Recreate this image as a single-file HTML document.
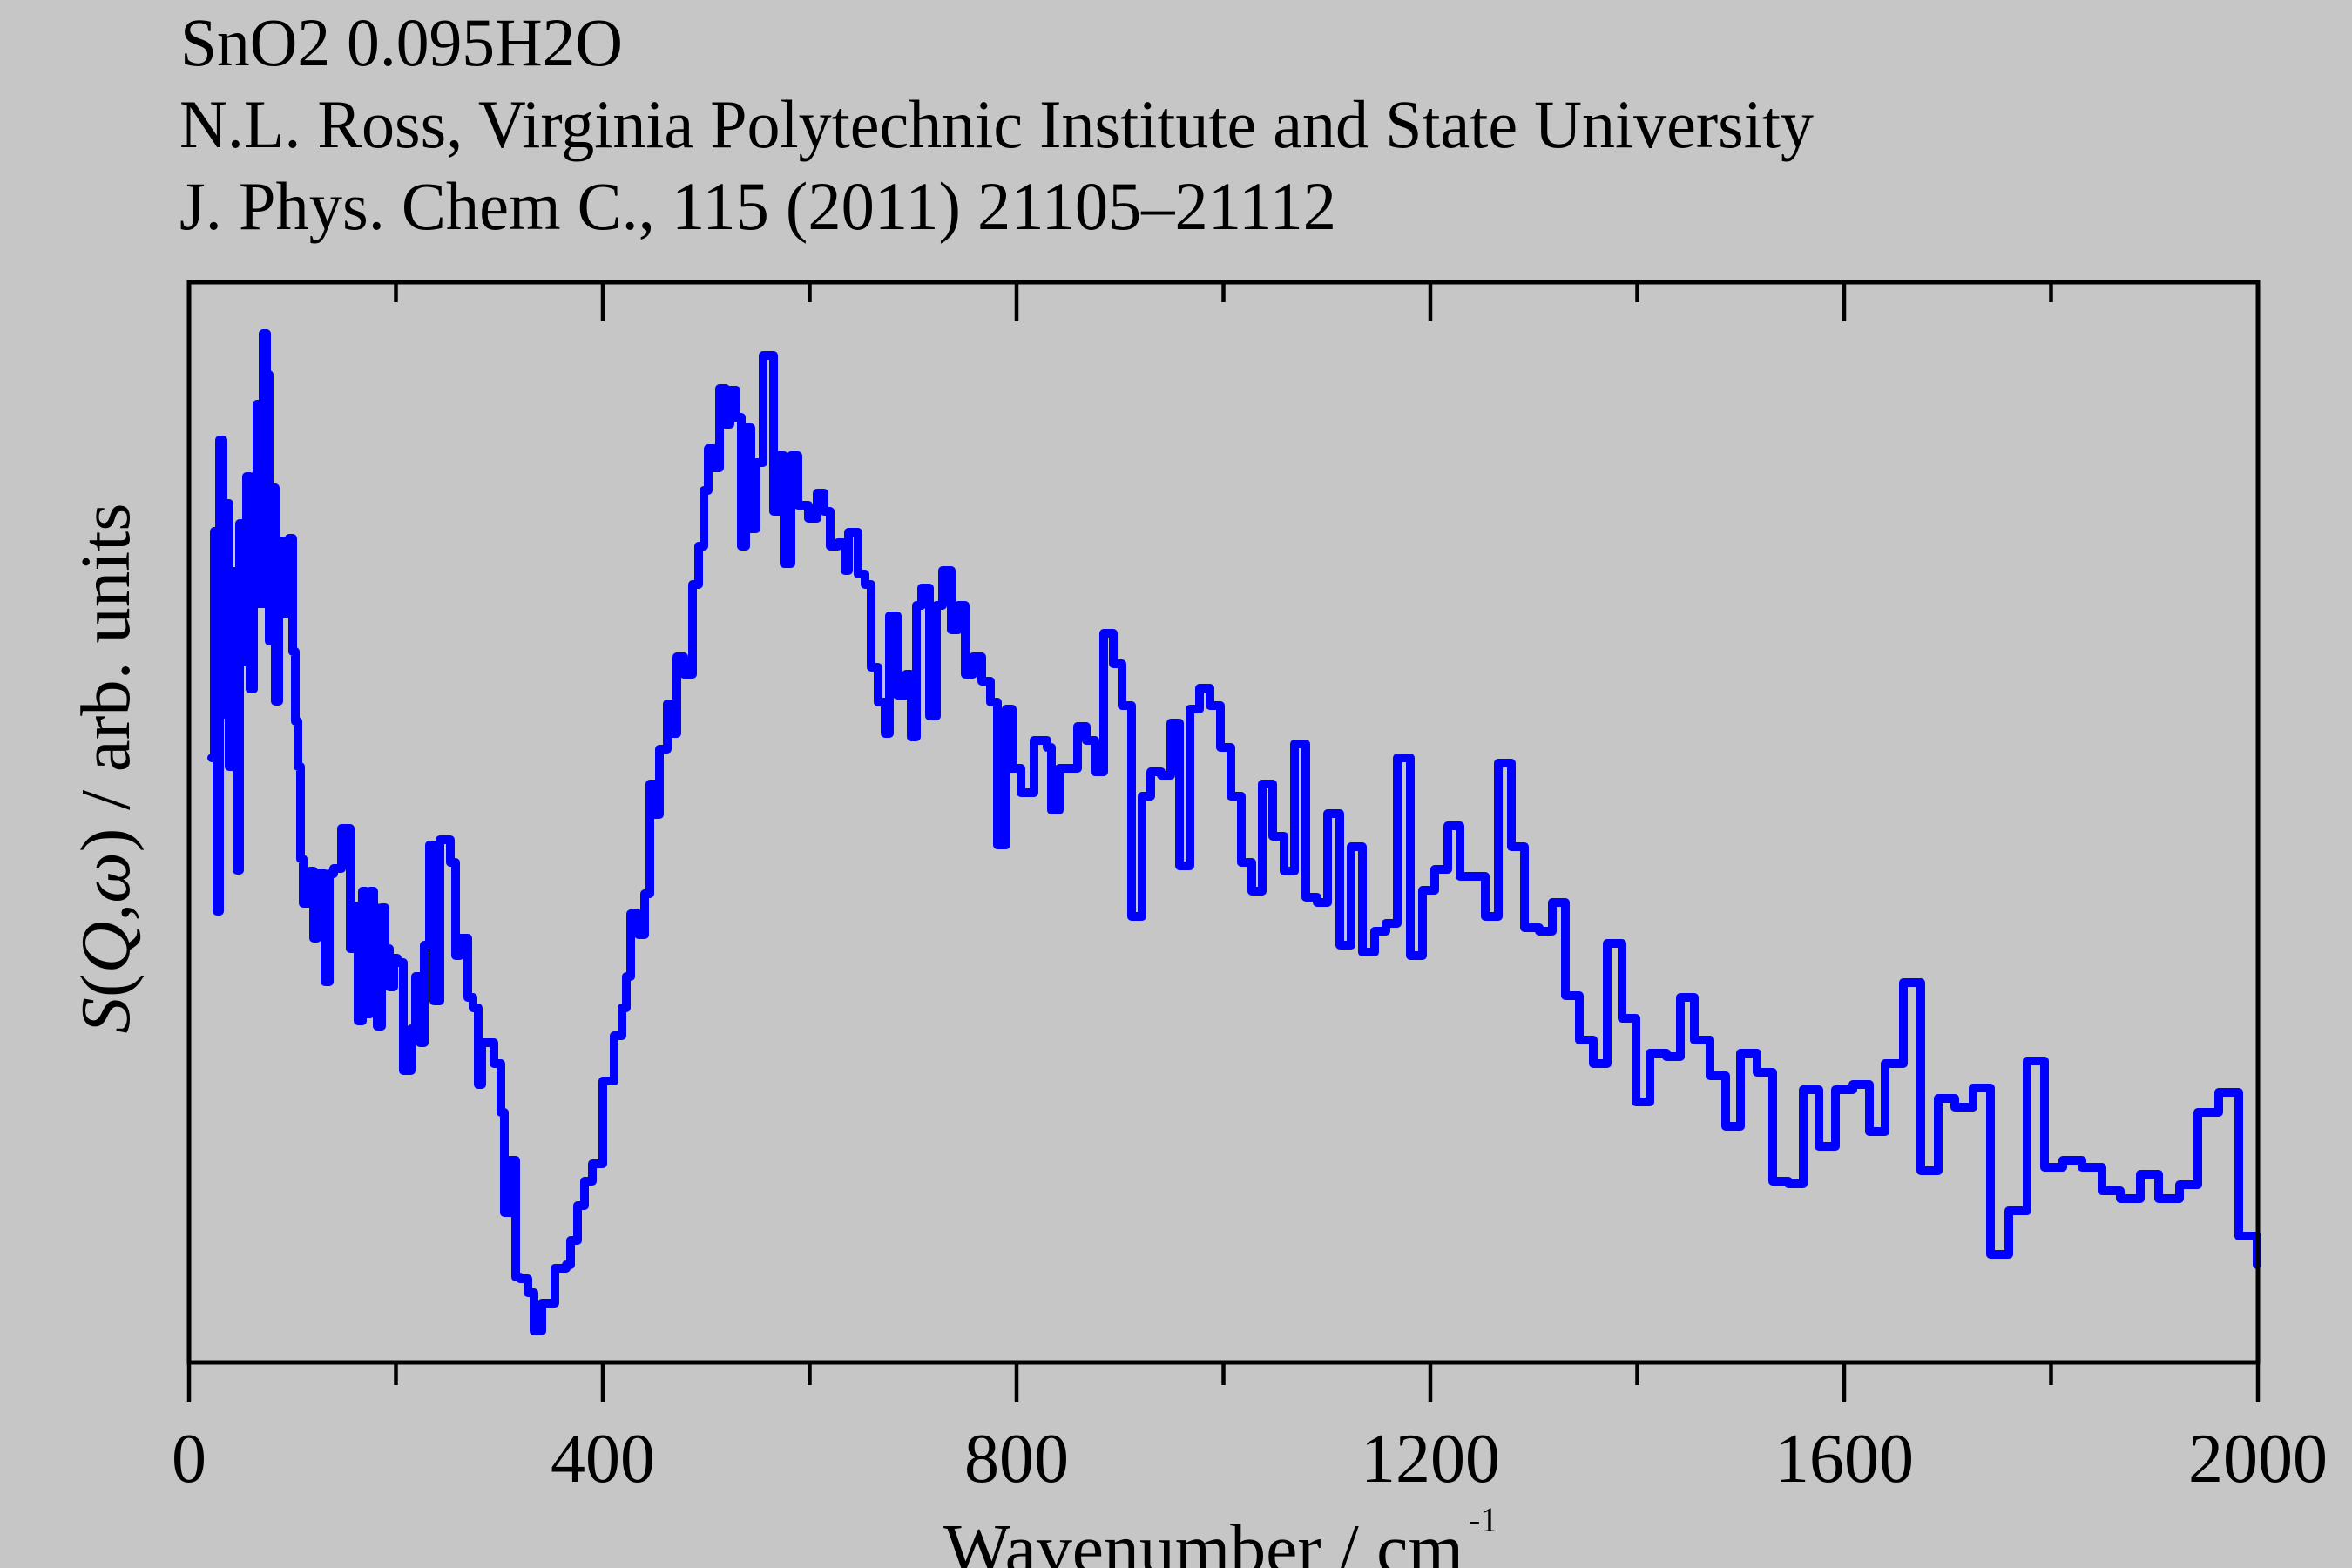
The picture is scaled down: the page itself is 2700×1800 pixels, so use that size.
<!DOCTYPE html>
<html>
<head>
<meta charset="utf-8">
<style>
  html, body { margin: 0; padding: 0; background: #c6c6c6; }
  body { width: 2700px; height: 1800px; overflow: hidden; }
  svg { display: block; }
  text { font-family: "Liberation Serif", "Times New Roman", serif; fill: #000; }
</style>
</head>
<body>
<svg width="2700" height="1800" viewBox="0 0 2700 1800" xmlns="http://www.w3.org/2000/svg">
  <rect x="0" y="0" width="2700" height="1800" fill="#c6c6c6"/>

  <!-- Title block -->
  <text x="207" y="75" font-size="78" textLength="508" lengthAdjust="spacingAndGlyphs">SnO2 0.095H2O</text>
  <text x="206" y="169" font-size="78" textLength="1876" lengthAdjust="spacingAndGlyphs">N.L. Ross, Virginia Polytechnic Institute and State University</text>
  <text x="206" y="263" font-size="78" textLength="1328" lengthAdjust="spacingAndGlyphs">J. Phys. Chem C., 115 (2011) 21105–21112</text>

  <!-- Data curve -->
  <path fill="none" stroke="#0000ff" stroke-width="10" stroke-linejoin="round" stroke-linecap="round"
    d="M243,870H246V610H249V1046H252V505H256V820H259V578H263V880H266V656H269V760H272V999H275V601H279V760H283V547H287V791H291V547H295V464H298V693H302V383H306V430H309V736H312V560H316V805H320V621H324V705H328V621H332V618H336V748H339V828H342V880H345V986H348V1037H356V1000H360V1077H364V1003H373V1127H378V1003H383V997H392V951H402V1089H406V1040H411V1172H416V1023H420V1164H425V1023H429V1042H433V1178H438V1042H442V1089H447V1133H452V1100H456V1105H463V1229H472V1181H477V1121H482V1197H487V1085H493V970H498V1149H505V964H517V990H523V1097H528V1077H537V1145H543V1157H549V1245H553V1197H567V1221H575V1277H579V1392H585V1332H592V1466H597V1468H606V1484H613V1528H622V1496H637V1456H650V1452H655V1424H663V1384H671V1356H680V1336H692V1241H705V1189H714V1157H719V1121H724V1049H733V1073H740V1026H746V900H752V935H757V860H766V808H772V842H777V754H785V774H795V671H802V627H808V563H813V515H820V537H826V446H833V487H838V448H845V479H851V627H856V491H862V607H868V531H876V408H888V587H893V523H900V647H908V523H916V580H928V595H938V566H946V587H953V627H962V623H970V655H974V611H985V659H993V671H1000V766H1008V806H1016V842H1021V707H1030V798H1040V774H1046V846H1052V695H1058V675H1067V822H1075V695H1082V655H1092V723H1100V695H1108V774H1117V754H1127V782H1137V806H1145V970H1155V814H1162V882H1172V910H1187V850H1202V858H1207V930H1216V882H1237V834H1247V850H1257V886H1267V727H1278V762H1288V810H1299V1052H1311V914H1321V886H1333V890H1344V830H1354V994H1366V814H1377V790H1389V810H1401V858H1413V914H1425V990H1437V1023H1449V900H1461V960H1474V1000H1486V854H1499V1030H1512V1036H1524V934H1538V1085H1551V972H1564V1093H1578V1069H1591V1060H1604V870H1619V1097H1633V1022H1647V998H1662V948H1676V1006H1705V1052H1720V876H1735V972H1750V1065H1767V1069H1782V1036H1797V1143H1813V1194H1829V1221H1845V1083H1862V1169H1878V1265H1894V1209H1913V1213H1929V1145H1945V1194H1963V1235H1981V1293H1998V1209H2017V1231H2035V1356H2053V1359H2070V1251H2088V1316H2107V1251H2127V1245H2146V1299H2164V1221H2185V1128H2205V1344H2225V1261H2244V1271H2265V1249H2285V1440H2306V1390H2327V1218H2347V1340H2368V1332H2390V1340H2413V1367H2434V1376H2457V1348H2478V1376H2502V1360H2523V1277H2547V1254H2570V1419H2591V1452"/>

  <!-- Axes frame -->
  <rect x="217" y="324" width="2375" height="1240" fill="none" stroke="#000" stroke-width="5"/>

  <!-- Top ticks (inward) -->
  <g stroke="#000" stroke-width="4.5">
    <line x1="692" y1="324" x2="692" y2="369"/>
    <line x1="1167" y1="324" x2="1167" y2="369"/>
    <line x1="1642" y1="324" x2="1642" y2="369"/>
    <line x1="2117" y1="324" x2="2117" y2="369"/>
    <line x1="454.5" y1="324" x2="454.5" y2="347"/>
    <line x1="929.5" y1="324" x2="929.5" y2="347"/>
    <line x1="1404.5" y1="324" x2="1404.5" y2="347"/>
    <line x1="1879.5" y1="324" x2="1879.5" y2="347"/>
    <line x1="2354.5" y1="324" x2="2354.5" y2="347"/>
  </g>

  <!-- Bottom ticks (outward) -->
  <g stroke="#000" stroke-width="4.5">
    <line x1="217" y1="1564" x2="217" y2="1610"/>
    <line x1="692" y1="1564" x2="692" y2="1610"/>
    <line x1="1167" y1="1564" x2="1167" y2="1610"/>
    <line x1="1642" y1="1564" x2="1642" y2="1610"/>
    <line x1="2117" y1="1564" x2="2117" y2="1610"/>
    <line x1="2592" y1="1564" x2="2592" y2="1610"/>
    <line x1="454.5" y1="1564" x2="454.5" y2="1590"/>
    <line x1="929.5" y1="1564" x2="929.5" y2="1590"/>
    <line x1="1404.5" y1="1564" x2="1404.5" y2="1590"/>
    <line x1="1879.5" y1="1564" x2="1879.5" y2="1590"/>
    <line x1="2354.5" y1="1564" x2="2354.5" y2="1590"/>
  </g>

  <!-- Tick labels -->
  <g font-size="80" text-anchor="middle">
    <text x="217" y="1701">0</text>
    <text x="692" y="1701">400</text>
    <text x="1167" y="1701">800</text>
    <text x="1642" y="1701">1200</text>
    <text x="2117" y="1701">1600</text>
    <text x="2592" y="1701">2000</text>
  </g>

  <!-- X axis label -->
  <text x="1083" y="1805" font-size="80" textLength="597" lengthAdjust="spacingAndGlyphs">Wavenumber / cm</text>
  <text x="1686" y="1758" font-size="40">-1</text>

  <!-- Y axis label -->
  <text transform="translate(148,882) rotate(-90)" text-anchor="middle" font-size="80" textLength="609" lengthAdjust="spacingAndGlyphs"><tspan font-style="italic">S</tspan>(<tspan font-style="italic">Q</tspan>,<tspan font-style="italic">ω</tspan>) / arb. units</text>
</svg>
</body>
</html>
